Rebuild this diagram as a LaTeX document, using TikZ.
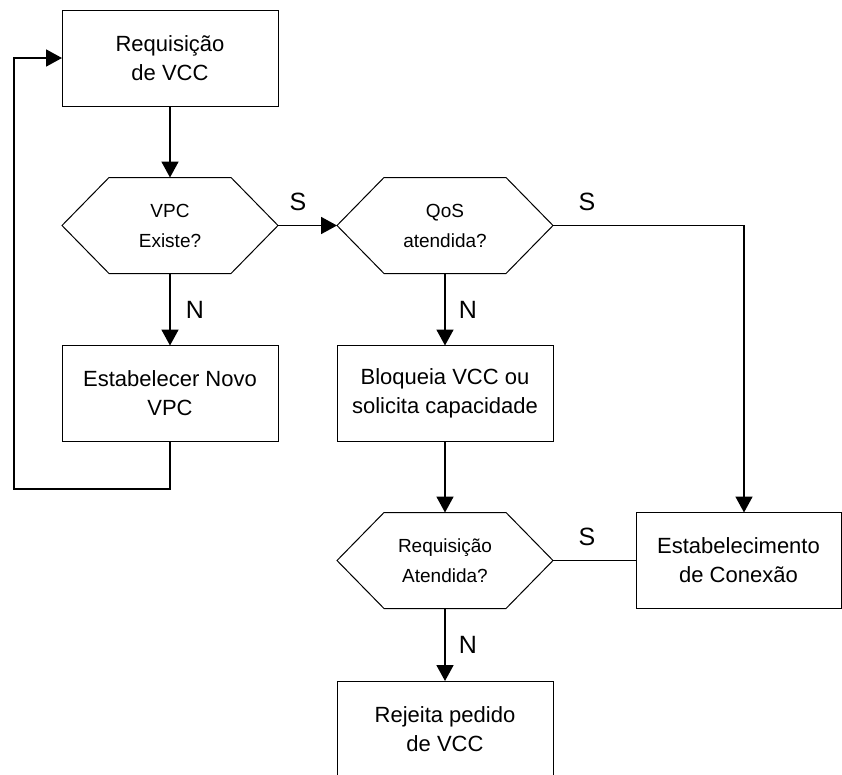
\documentclass[tikz,border=0pt]{standalone}
\usepackage{fontspec}
\setmainfont{Liberation Sans}
\usetikzlibrary{arrows.meta,calc}

\tikzset{
  box/.style={draw, line width=1pt, minimum width=216pt, minimum height=96pt,
    inner sep=0pt, outer sep=0pt, align=center, font=\fontsize{22pt}{29pt}\selectfont},
  hexa/.style={draw=none, minimum width=216pt, minimum height=96pt,
    inner sep=0pt, outer sep=0pt, align=center, font=\fontsize{19pt}{30pt}\selectfont},
  hexline/.style={line width=1pt, line join=miter},
  flow/.style={line width=1.8pt, -{Triangle[length=16pt,width=17pt]}},
  plain/.style={line width=1.8pt},
  answer/.style={font=\fontsize{25pt}{30pt}\selectfont, inner sep=0pt}
}

% hexagonal decision outline around a node
\newcommand{\hexoutline}[1]{%
  \draw[hexline] (#1.west) -- ([xshift=47pt]#1.north west) -- ([xshift=-47pt]#1.north east)
    -- (#1.east) -- ([xshift=-47pt]#1.south east) -- ([xshift=47pt]#1.south west) -- cycle;}

\begin{document}
\begin{tikzpicture}[x=1pt,y=-1pt]
  \useasboundingbox (0,0) rectangle (842,774);
  \clip (0,0) rectangle (842,774);

  % process boxes and decisions
  \node[box]  (req)   at (170,58)    {Requisição\\de VCC};
  \node[hexa] (vpc)   at (170,225.5) {VPC\\Existe?};
  \node[box]  (novo)  at (170,393.5) {Estabelecer Novo\\VPC};
  \node[hexa] (qos)   at (445,225.5) {QoS\\atendida?};
  \node[box]  (bloq)  at (445,393.5) {Bloqueia VCC ou\\solicita capacidade};
  \node[hexa] (aten)  at (445,560.5) {Requisição\\Atendida?};
  \node[box, minimum width=205pt] (conex) at (738.5,560.5) {Estabelecimento\\de Conexão};
  \node[box]  (rej)   at (445,729)   {Rejeita pedido\\de VCC};

  \hexoutline{vpc}
  \hexoutline{qos}
  \hexoutline{aten}

  % turning points
  \coordinate (loop)  at (14,489);
  \coordinate (qturn) at (744,225.5);

  % connectors
  \draw[flow] (req.south) -- (vpc.north);
  \draw[flow] (vpc.east) -- (qos.west);
  \draw[flow] (vpc.south) -- (novo.north);
  \draw[flow] (novo.south) |- (loop) |- (req.west);
  \draw[flow] (qos.east) -- (qturn) -- (qturn |- conex.north);
  \draw[flow] (qos.south) -- (bloq.north);
  \draw[flow] (bloq.south) -- (aten.north);
  \draw[plain] (aten.east) -- (conex.west);
  \draw[flow] (aten.south) -- (rej.north);

  % branch labels
  \node[answer] (s1) at (298,202) {S};
  \node[answer] (s2) at (587,202) {S};
  \node[answer] (s3) at (587,537) {S};
  \node[answer] (n1) at (195,310) {N};
  \node[answer] (n2) at (468,310) {N};
  \node[answer] (n3) at (468,645) {N};
\end{tikzpicture}
\end{document}
